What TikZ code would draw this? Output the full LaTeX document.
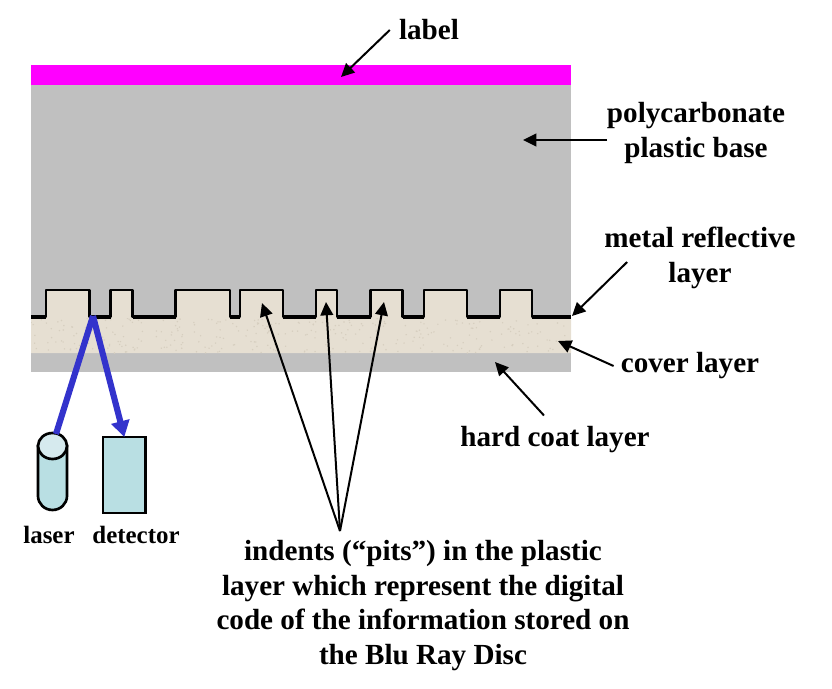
\documentclass[tikz,border=0pt]{standalone}
\usepackage{fontspec}
\setmainfont{Liberation Serif}
\usetikzlibrary{arrows.meta,calc}
\definecolor{labelpink}{HTML}{FF00FF}
\definecolor{basegray}{HTML}{C0C0C0}
\definecolor{coverc}{HTML}{E6DFD2}
\definecolor{speck}{HTML}{D6CEBF}
\definecolor{optic}{HTML}{B9DFE3}
\definecolor{optictop}{HTML}{D6EAEE}
\definecolor{beam}{HTML}{3333CC}
\tikzset{
  px/.style={x=0.75pt,y=-0.75pt},
  captext/.style={font=\bfseries\fontsize{21.85}{25.9}\selectfont,align=center,inner sep=0pt,text=black},
  smallcap/.style={font=\bfseries\fontsize{18.7}{20}\selectfont,inner sep=0pt,text=black},
  pointer/.style={draw=black,line width=1.5pt,-{Triangle[length=10pt,width=9.5pt]}},
  beamline/.style={draw=beam,line width=4.6pt},
  outline/.style={draw=black,line width=2pt},
  pitline/.style={draw=black,line width=2.2pt,line join=round}
}
\begin{document}
\begin{tikzpicture}[px]
\useasboundingbox (0,0) rectangle (832,689);
% layers
\fill[labelpink] (31,65) rectangle (571,85);
\fill[basegray] (31,85) rectangle (571,372);
\fill[coverc] (31,317) -- (46,317) -- (46,290) -- (89.5,290) -- (89.5,317) -- (110.5,317) -- (110.5,290) -- (132.5,290) -- (132.5,317) -- (175.5,317) -- (175.5,290) -- (230,290) -- (230,317) -- (240,317) -- (240,290) -- (283,290) -- (283,317) -- (316,317) -- (316,290) -- (337,290) -- (337,317) -- (370.5,317) -- (370.5,290) -- (402.5,290) -- (402.5,317) -- (424,317) -- (424,290) -- (467,290) -- (467,317) -- (500,317) -- (500,290) -- (532,290) -- (532,317) -- (571,317) -- (571,353) -- (31,353) -- cycle;
% texture
\pgfmathsetseed{7}
\begin{scope}
\clip (31,318) rectangle (571,353);
\foreach \i in {1,...,320}{
  \pgfmathsetmacro{\sx}{31+540*rnd}
  \pgfmathsetmacro{\sy}{318+35*rnd}
  \fill[speck] (\sx,\sy) circle (0.8);
}
\end{scope}
% pit profile
\draw[pitline] (31,317) -- (46,317) -- (46,290) -- (89.5,290) -- (89.5,317) -- (110.5,317) -- (110.5,290) -- (132.5,290) -- (132.5,317) -- (175.5,317) -- (175.5,290) -- (230,290) -- (230,317) -- (240,317) -- (240,290) -- (283,290) -- (283,317) -- (316,317) -- (316,290) -- (337,290) -- (337,317) -- (370.5,317) -- (370.5,290) -- (402.5,290) -- (402.5,317) -- (424,317) -- (424,290) -- (467,290) -- (467,317) -- (500,317) -- (500,290) -- (532,290) -- (532,317) -- (571,317);
\foreach \a/\b in {31/46,89.5/110.5,132.5/175.5,230/240,283/316,337/370.5,402.5/424,467/500,532/571}
  \draw[draw=black,line width=3.2pt] (\a,316.8) -- (\b,316.8);
% laser
\draw[outline,fill=optic] (38,446) -- (38,496) arc[start angle=180,end angle=0,x radius=14.5,y radius=14] -- (67,446) -- cycle;
\draw[outline,fill=optictop] (52.5,446) ellipse[x radius=14.5,y radius=13];
\coordinate (lasertop) at (56,434);
% detector
\node[draw=black,line width=2pt,fill=optic,minimum width=32pt,minimum height=57pt,inner sep=0pt,outer sep=0pt,anchor=north west] (detector) at (103,437) {};
% beams
\coordinate (spot) at (93,316);
\draw[beamline] (lasertop) -- (spot);
\draw[beamline,-{Triangle[length=12pt,width=13.5pt]}] (spot) -- (detector.north);
% texts
\node[captext] (lbl) at (429,30) {label};
\node[captext] (poly) at (696,133) {polycarbonate\\plastic base};
\node[captext] (metal) at (700,258) {metal reflective\\layer};
\node[captext] (cover) at (690,366) {cover layer};
\node[captext] (hard) at (555,440) {hard coat layer};
\node[smallcap] (lasertxt) at (49,535) {laser};
\node[smallcap] (dettxt) at (136,535) {detector};
\node[captext] (indents) at (423,605.5) {indents (“pits”) in the plastic\\layer which represent the digital\\code of the information stored on\\the Blu Ray Disc};
% pointer tips
\coordinate (tipL) at (341,77);
\coordinate (tipP) at (523,140);
\coordinate (tipM) at (572,316);
\coordinate (tipC) at (558,341);
\coordinate (tipH) at (495,362);
\coordinate (tipA) at (262,303);
\coordinate (tipB) at (326,302);
\coordinate (tipD) at (384,302);
\coordinate (fan) at (340,531);
\coordinate (polytail) at (607,140);
\draw[pointer] ($(lbl.west)+(-9,0)$) -- (tipL);
\draw[pointer] (polytail) -- (tipP);
\draw[pointer] ($(metal.west)+(23,4)$) -- (tipM);
\draw[pointer] ($(cover.west)+(-7,0)$) -- (tipC);
\draw[pointer] ($(hard.north)+(-11,-11)$) -- (tipH);
\draw[pointer] (fan) -- (tipA);
\draw[pointer] (fan) -- (tipB);
\draw[pointer] (fan) -- (tipD);
\end{tikzpicture}
\end{document}
